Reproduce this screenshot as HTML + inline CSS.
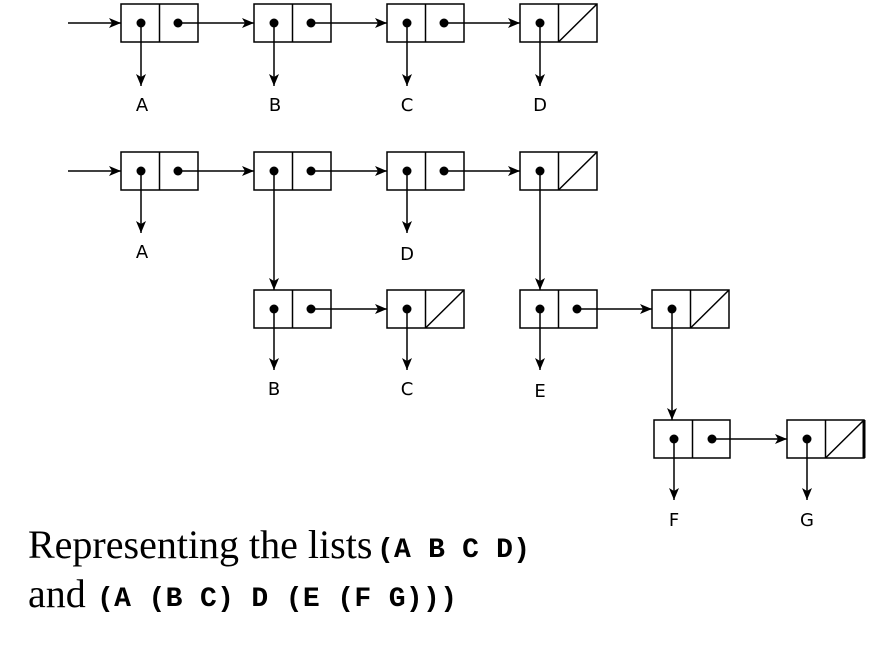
<!DOCTYPE html>
<html><head><meta charset="utf-8"><style>
html,body{margin:0;padding:0;background:#fff;}
svg{display:block;}
</style></head><body>
<svg width="886" height="653" viewBox="0 0 886 653" xmlns="http://www.w3.org/2000/svg">
<defs>
<marker id="ah" viewBox="0 0 12 10" refX="12" refY="5" markerWidth="12" markerHeight="10" markerUnits="userSpaceOnUse" orient="auto">
<path d="M0,0 L12,5 L0,10 L3,5 Z" fill="#000"/>
</marker>
</defs>
<g stroke="#000" stroke-width="1.5" fill="none">
<rect x="121" y="4" width="77" height="38"/><line x1="159.5" y1="4" x2="159.5" y2="42"/>
<rect x="254" y="4" width="77" height="38"/><line x1="292.5" y1="4" x2="292.5" y2="42"/>
<rect x="387" y="4" width="77" height="38"/><line x1="425.5" y1="4" x2="425.5" y2="42"/>
<rect x="520" y="4" width="77" height="38"/><line x1="558.5" y1="4" x2="558.5" y2="42"/><line x1="558.5" y1="42" x2="597" y2="4"/>
<line x1="68" y1="23" x2="121" y2="23" marker-end="url(#ah)"/>
<line x1="178" y1="23" x2="254" y2="23" marker-end="url(#ah)"/>
<line x1="311" y1="23" x2="387" y2="23" marker-end="url(#ah)"/>
<line x1="444" y1="23" x2="520" y2="23" marker-end="url(#ah)"/>
<line x1="141" y1="23" x2="141" y2="86" marker-end="url(#ah)"/>
<line x1="274" y1="23" x2="274" y2="86" marker-end="url(#ah)"/>
<line x1="407" y1="23" x2="407" y2="86" marker-end="url(#ah)"/>
<line x1="540" y1="23" x2="540" y2="86" marker-end="url(#ah)"/>
<rect x="121" y="152" width="77" height="38"/><line x1="159.5" y1="152" x2="159.5" y2="190"/>
<rect x="254" y="152" width="77" height="38"/><line x1="292.5" y1="152" x2="292.5" y2="190"/>
<rect x="387" y="152" width="77" height="38"/><line x1="425.5" y1="152" x2="425.5" y2="190"/>
<rect x="520" y="152" width="77" height="38"/><line x1="558.5" y1="152" x2="558.5" y2="190"/><line x1="558.5" y1="190" x2="597" y2="152"/>
<line x1="68" y1="171" x2="121" y2="171" marker-end="url(#ah)"/>
<line x1="178" y1="171" x2="254" y2="171" marker-end="url(#ah)"/>
<line x1="311" y1="171" x2="387" y2="171" marker-end="url(#ah)"/>
<line x1="444" y1="171" x2="520" y2="171" marker-end="url(#ah)"/>
<line x1="141" y1="171" x2="141" y2="233" marker-end="url(#ah)"/>
<line x1="274" y1="171" x2="274" y2="290" marker-end="url(#ah)"/>
<line x1="407" y1="171" x2="407" y2="233" marker-end="url(#ah)"/>
<line x1="540" y1="171" x2="540" y2="290" marker-end="url(#ah)"/>
<rect x="254" y="290" width="77" height="38"/><line x1="292.5" y1="290" x2="292.5" y2="328"/>
<rect x="387" y="290" width="77" height="38"/><line x1="425.5" y1="290" x2="425.5" y2="328"/><line x1="425.5" y1="328" x2="464" y2="290"/>
<rect x="520" y="290" width="77" height="38"/><line x1="558.5" y1="290" x2="558.5" y2="328"/>
<rect x="652" y="290" width="77" height="38"/><line x1="690.5" y1="290" x2="690.5" y2="328"/><line x1="690.5" y1="328" x2="729" y2="290"/>
<line x1="311" y1="309" x2="387" y2="309" marker-end="url(#ah)"/>
<line x1="577" y1="309" x2="652" y2="309" marker-end="url(#ah)"/>
<line x1="274" y1="309" x2="274" y2="370" marker-end="url(#ah)"/>
<line x1="407" y1="309" x2="407" y2="370" marker-end="url(#ah)"/>
<line x1="540" y1="309" x2="540" y2="370" marker-end="url(#ah)"/>
<line x1="672" y1="309" x2="672" y2="420" marker-end="url(#ah)"/>
<rect x="654" y="420" width="76" height="38"/><line x1="692.5" y1="420" x2="692.5" y2="458"/>
<rect x="787" y="420" width="77" height="38"/><line x1="825.5" y1="420" x2="825.5" y2="458"/><line x1="825.5" y1="458" x2="864" y2="420"/>
<line x1="864" y1="420" x2="864" y2="458" stroke-width="3"/>
<line x1="712" y1="439" x2="787" y2="439" marker-end="url(#ah)"/>
<line x1="674" y1="439" x2="674" y2="500" marker-end="url(#ah)"/>
<line x1="807" y1="439" x2="807" y2="500" marker-end="url(#ah)"/>
</g>
<g fill="#000">
<circle cx="141" cy="23" r="4.5"/><circle cx="178" cy="23" r="4.5"/>
<circle cx="274" cy="23" r="4.5"/><circle cx="311" cy="23" r="4.5"/>
<circle cx="407" cy="23" r="4.5"/><circle cx="444" cy="23" r="4.5"/>
<circle cx="540" cy="23" r="4.5"/>
<circle cx="141" cy="171" r="4.5"/><circle cx="178" cy="171" r="4.5"/>
<circle cx="274" cy="171" r="4.5"/><circle cx="311" cy="171" r="4.5"/>
<circle cx="407" cy="171" r="4.5"/><circle cx="444" cy="171" r="4.5"/>
<circle cx="540" cy="171" r="4.5"/>
<circle cx="274" cy="309" r="4.5"/><circle cx="311" cy="309" r="4.5"/>
<circle cx="407" cy="309" r="4.5"/>
<circle cx="540" cy="309" r="4.5"/><circle cx="577" cy="309" r="4.5"/>
<circle cx="672" cy="309" r="4.5"/>
<circle cx="674" cy="439" r="4.5"/><circle cx="712" cy="439" r="4.5"/>
<circle cx="807" cy="439" r="4.5"/>
</g>
<g font-family="'DejaVu Sans','Liberation Sans',sans-serif" font-size="18" text-anchor="middle" fill="#000">
<text x="142" y="111">A</text><text x="275" y="111">B</text><text x="407" y="111">C</text><text x="540" y="111">D</text>
<text x="142" y="258">A</text><text x="407" y="260">D</text>
<text x="274" y="395">B</text><text x="407" y="395">C</text><text x="540" y="397">E</text>
<text x="674" y="526">F</text><text x="807" y="526">G</text>
</g>
<g fill="#000">
<text x="28" y="558" font-family="'Liberation Serif',serif" font-size="40">Representing the lists</text>
<text x="377" y="557" font-family="'Liberation Mono',monospace" font-weight="bold" font-size="28" textLength="153" lengthAdjust="spacing">(A B C D)</text>
<text x="28" y="607" font-family="'Liberation Serif',serif" font-size="40">and</text>
<text x="97" y="606" font-family="'Liberation Mono',monospace" font-weight="bold" font-size="28" textLength="360" lengthAdjust="spacing">(A (B C) D (E (F G)))</text>
</g>
</svg>
</body></html>
